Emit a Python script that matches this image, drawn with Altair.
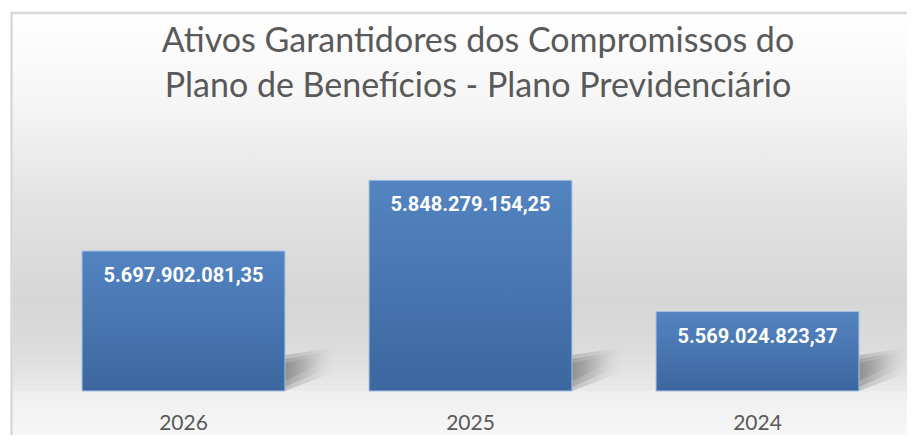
import altair as alt
import pandas as pd

# ---- data ----
years = ["2026", "2025", "2024"]
values = [5697902081.35, 5848279154.25, 5569024823.37]
labels = ["5.697.902.081,35", "5.848.279.154,25", "5.569.024.823,37"]
y_min = 5400000000
y_max = 5900000000
title_lines = ["Ativos Garantidores dos Compromissos do",
               "Plano de Benefícios - Plano Previdenciário"]

df = pd.DataFrame({"year": years, "value": values, "label": labels})
one = pd.DataFrame({"k": [0]})

W, H = 861, 235

xenc = alt.X(
    "year:N", sort=years,
    scale=alt.Scale(paddingInner=0.293, paddingOuter=0.1465),
    axis=alt.Axis(title=None, domain=False, ticks=False, labelAngle=0,
                  labelFont="Lato", labelFontSize=21, labelColor="#595959",
                  labelPadding=21, zindex=2),
)
yscale = alt.Scale(domain=[y_min, y_max], zero=False, nice=False)

# background (chart area gradient)
bg_top = alt.Chart(one).mark_rect(
    fill=alt.Gradient(gradient="linear", x1=0, y1=0, x2=0, y2=1, stops=[
        alt.GradientStop(offset=0, color="#ffffff"),
        alt.GradientStop(offset=0.23, color="#f6f6f6"),
        alt.GradientStop(offset=0.5, color="#e3e3e3"),
        alt.GradientStop(offset=0.76, color="#d6d6d6"),
        alt.GradientStop(offset=0.89, color="#dcdcdc"),
        alt.GradientStop(offset=1, color="#eaeaea"),
    ])
).encode(x=alt.value(-29), x2=alt.value(900), y=alt.value(-144), y2=alt.value(H))

bg_bot = alt.Chart(one).mark_rect(
    fill=alt.Gradient(gradient="linear", x1=0, y1=0, x2=0, y2=1, stops=[
        alt.GradientStop(offset=0, color="#efefef"),
        alt.GradientStop(offset=1, color="#fbfbfb"),
    ])
).encode(x=alt.value(-29), x2=alt.value(900), y=alt.value(H), y2=alt.value(H + 70))

# soft perspective shadow behind bars (layers to fake a blur)
def shadow_layer(path, a0, a1):
    return alt.Chart(df).mark_point(
        shape=path, size=10000, filled=True, opacity=1, strokeWidth=0,
        xOffset=101.5,
        fill=alt.Gradient(gradient="linear", x1=0, y1=0.5, x2=1, y2=0.5, stops=[
            alt.GradientStop(offset=0, color=f"rgba(100,100,100,{a0})"),
            alt.GradientStop(offset=0.45, color=f"rgba(120,120,120,{a1})"),
            alt.GradientStop(offset=1, color="rgba(170,170,170,0)"),
        ]),
    ).encode(x=xenc, y=alt.value(H))

shadow_outer = shadow_layer("M0,0 L0,-0.72 L1.06,-0.88 L1.06,-0.4 Z", 0.3, 0.18)
shadow_mid = shadow_layer("M0,-0.08 L0,-0.64 L0.9,-0.8 L0.9,-0.48 Z", 0.3, 0.18)
shadow_inner = shadow_layer("M0,-0.2 L0,-0.56 L0.7,-0.7 L0.7,-0.54 Z", 0.3, 0.2)

bars = alt.Chart(df).mark_bar(
    fill=alt.Gradient(gradient="linear", x1=0, y1=0, x2=0, y2=1, stops=[
        alt.GradientStop(offset=0, color="#5384c1"),
        alt.GradientStop(offset=1, color="#3c679f"),
    ]),
    stroke="#a5c0e2", strokeWidth=1,
).encode(
    x=xenc,
    y=alt.Y("value:Q", scale=yscale, axis=None),
    y2=alt.datum(y_min),
)

text = alt.Chart(df).mark_text(
    color="white", font="Roboto", fontSize=20, fontWeight="bold",
    baseline="alphabetic", dy=31,
).encode(x=xenc, y=alt.Y("value:Q", scale=yscale), text="label:N")

border = alt.Chart(one).mark_rect(
    fill="transparent", stroke="#d9d9d9", strokeWidth=2.5
).encode(x=alt.value(-28.5), x2=alt.value(950), y=alt.value(-143), y2=alt.value(400))

chart = alt.layer(bg_top, bg_bot, shadow_outer, shadow_mid, shadow_inner, bars, text, border).properties(
    width=W, height=H,
    autosize=alt.AutoSizeParams(type="none"),
    padding={"left": 32, "top": 148, "right": 6, "bottom": 44},
    background="white",
    title=alt.TitleParams(
        text=title_lines, font="Lato", fontSize=34, fontWeight="normal",
        color="#595959", lineHeight=45, anchor="middle", frame="group",
        offset=-92, dx=7.5, zindex=3,
    ),
).configure_view(strokeWidth=0)

chart.save("out.html", embed_options={"renderer": "svg", "actions": False})
